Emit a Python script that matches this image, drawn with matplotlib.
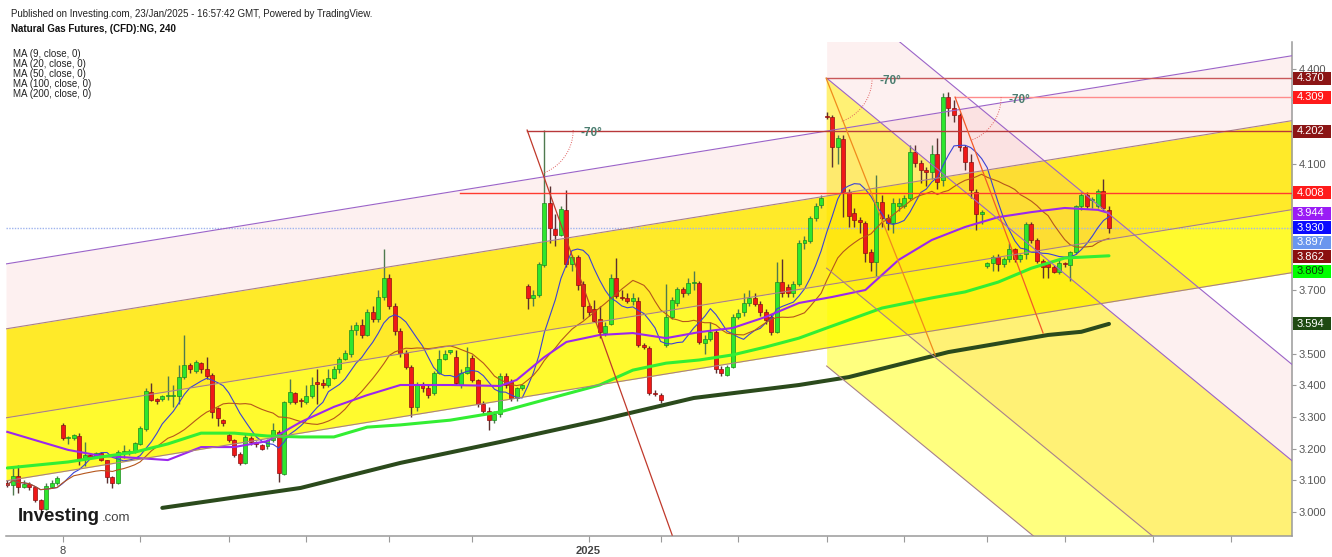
import matplotlib
matplotlib.use('Agg')
import matplotlib.pyplot as plt
import matplotlib.transforms as mtransforms
from matplotlib.patches import Rectangle
import numpy as np
import pandas as pd

plt.rcParams['font.family'] = ['Liberation Sans', 'DejaVu Sans']

# ---------------- data (240-min bars) ----------------
opens = [3.090, 3.085, 3.115, 3.080, 3.088, 3.078, 3.038, 3.010, 3.080, 3.090,
         3.274, 3.233, 3.233, 3.241, 3.166, 3.180, 3.175, 3.185, 3.163, 3.112,
         3.090, 3.188, 3.190, 3.190, 3.214, 3.262, 3.380, 3.356, 3.357, 3.367,
         3.367, 3.367, 3.427, 3.464, 3.446, 3.470, 3.452, 3.432, 3.327, 3.290,
         3.243, 3.227, 3.183, 3.156, 3.235, 3.220, 3.210, 3.208, 3.227, 3.254,
         3.120, 3.348, 3.375, 3.350, 3.348, 3.367, 3.406, 3.408, 3.400, 3.424,
         3.450, 3.483, 3.500, 3.575, 3.590, 3.560, 3.630, 3.610, 3.680, 3.740,
         3.650, 3.570, 3.502, 3.459, 3.330, 3.400, 3.390, 3.375, 3.440, 3.483,
         3.506, 3.490, 3.400, 3.440, 3.486, 3.417, 3.340, 3.320, 3.290, 3.310,
         3.430, 3.410, 3.360, 3.390, 3.713, 3.675, 3.685, 3.780, 3.975, 3.893,
         3.875, 3.953, 3.782, 3.804, 3.720, 3.650, 3.642, 3.608, 3.564, 3.594,
         3.738, 3.680, 3.675, 3.665, 3.667, 3.527, 3.519, 3.377, 3.370, 3.527,
         3.617, 3.660, 3.703, 3.690, 3.722, 3.724, 3.535, 3.545, 3.569, 3.450,
         3.433, 3.459, 3.617, 3.630, 3.660, 3.675, 3.658, 3.630, 3.617, 3.569,
         3.725, 3.710, 3.690, 3.720, 3.850, 3.855, 3.927, 3.970, 4.250, 4.248,
         4.151, 4.177, 4.011, 3.945, 3.922, 3.912, 3.820, 3.788, 3.980, 3.927,
         3.914, 3.967, 3.967, 3.990, 4.138, 4.101, 4.080, 4.075, 4.129, 4.048,
         4.311, 4.275, 4.254, 4.151, 4.104, 4.011, 3.941, 3.777, 3.785, 3.806,
         3.783, 3.798, 3.829, 3.798, 3.815, 3.908, 3.859, 3.794, 3.783, 3.773,
         3.759, 3.787, 3.780, 3.820, 3.967, 4.001, 3.985, 3.967, 4.014, 3.955]
highs = [3.100, 3.145, 3.148, 3.100, 3.095, 3.082, 3.040, 3.092, 3.100, 3.115,
         3.281, 3.240, 3.245, 3.250, 3.222, 3.185, 3.190, 3.190, 3.165, 3.115,
         3.195, 3.210, 3.200, 3.220, 3.270, 3.390, 3.406, 3.360, 3.370, 3.430,
         3.400, 3.464, 3.559, 3.470, 3.480, 3.475, 3.490, 3.440, 3.330, 3.295,
         3.250, 3.230, 3.190, 3.250, 3.240, 3.225, 3.215, 3.230, 3.280, 3.260,
         3.350, 3.420, 3.380, 3.360, 3.400, 3.427, 3.450, 3.420, 3.450, 3.460,
         3.490, 3.510, 3.590, 3.600, 3.610, 3.640, 3.650, 3.700, 3.830, 3.750,
         3.660, 3.580, 3.510, 3.465, 3.410, 3.410, 3.400, 3.445, 3.510, 3.510,
         3.510, 3.510, 3.450, 3.520, 3.495, 3.420, 3.350, 3.330, 3.320, 3.440,
         3.440, 3.420, 3.395, 3.405, 3.720, 3.700, 3.790, 4.205, 4.030, 3.940,
         3.965, 4.017, 3.810, 3.810, 3.730, 3.660, 3.670, 3.650, 3.600, 3.750,
         3.803, 3.700, 3.690, 3.690, 3.680, 3.535, 3.525, 3.385, 3.375, 3.720,
         3.680, 3.710, 3.710, 3.740, 3.760, 3.730, 3.560, 3.600, 3.575, 3.460,
         3.465, 3.625, 3.640, 3.690, 3.700, 3.690, 3.665, 3.640, 3.625, 3.790,
         3.800, 3.720, 3.730, 3.860, 3.870, 3.935, 3.975, 4.000, 4.262, 4.255,
         4.190, 4.190, 4.020, 3.960, 3.930, 3.920, 3.830, 4.064, 4.000, 3.940,
         3.990, 3.990, 4.000, 4.160, 4.160, 4.110, 4.090, 4.160, 4.180, 4.322,
         4.325, 4.300, 4.260, 4.160, 4.130, 4.020, 3.955, 3.790, 3.810, 3.815,
         3.805, 3.850, 3.835, 3.815, 3.915, 3.915, 3.865, 3.800, 3.790, 3.780,
         3.800, 3.790, 3.825, 3.970, 4.010, 4.010, 3.995, 4.020, 4.050, 3.965]
lows = [3.078, 3.054, 3.060, 3.075, 3.070, 3.032, 3.000, 3.006, 3.075, 3.085,
        3.228, 3.215, 3.228, 3.148, 3.146, 3.170, 3.170, 3.160, 3.092, 3.076,
        3.088, 3.170, 3.180, 3.185, 3.210, 3.255, 3.350, 3.340, 3.350, 3.355,
        3.330, 3.340, 3.420, 3.440, 3.440, 3.440, 3.420, 3.297, 3.270, 3.270,
        3.220, 3.175, 3.148, 3.150, 3.210, 3.205, 3.195, 3.200, 3.220, 3.096,
        3.118, 3.340, 3.340, 3.330, 3.340, 3.360, 3.340, 3.390, 3.395, 3.420,
        3.440, 3.480, 3.490, 3.560, 3.550, 3.555, 3.600, 3.600, 3.670, 3.640,
        3.560, 3.490, 3.450, 3.300, 3.320, 3.380, 3.360, 3.370, 3.435, 3.480,
        3.500, 3.400, 3.390, 3.435, 3.410, 3.330, 3.310, 3.260, 3.280, 3.300,
        3.390, 3.350, 3.350, 3.385, 3.640, 3.650, 3.680, 3.775, 3.850, 3.840,
        3.870, 3.775, 3.760, 3.700, 3.610, 3.620, 3.600, 3.550, 3.555, 3.590,
        3.675, 3.670, 3.660, 3.655, 3.520, 3.515, 3.370, 3.365, 3.345, 3.520,
        3.610, 3.650, 3.680, 3.685, 3.700, 3.530, 3.500, 3.540, 3.440, 3.430,
        3.430, 3.455, 3.610, 3.620, 3.650, 3.650, 3.620, 3.595, 3.560, 3.565,
        3.680, 3.680, 3.680, 3.715, 3.830, 3.850, 3.920, 3.960, 4.240, 4.090,
        4.100, 3.932, 3.900, 3.900, 3.880, 3.790, 3.760, 3.745, 3.900, 3.890,
        3.880, 3.950, 3.960, 3.985, 4.090, 4.040, 4.030, 4.050, 4.020, 4.030,
        4.250, 4.230, 4.140, 4.080, 3.990, 3.890, 3.910, 3.770, 3.760, 3.760,
        3.775, 3.790, 3.790, 3.790, 3.800, 3.850, 3.785, 3.740, 3.740, 3.755,
        3.750, 3.775, 3.730, 3.815, 3.955, 3.960, 3.960, 3.960, 3.950, 3.880]
closes = [3.085, 3.115, 3.080, 3.088, 3.078, 3.038, 3.010, 3.083, 3.092, 3.108,
          3.233, 3.234, 3.243, 3.166, 3.180, 3.175, 3.185, 3.163, 3.112, 3.093,
          3.188, 3.190, 3.191, 3.217, 3.264, 3.382, 3.354, 3.352, 3.367, 3.368,
          3.368, 3.427, 3.464, 3.450, 3.474, 3.450, 3.430, 3.317, 3.296, 3.280,
          3.227, 3.180, 3.156, 3.238, 3.220, 3.215, 3.200, 3.227, 3.260, 3.122,
          3.348, 3.378, 3.348, 3.349, 3.367, 3.400, 3.405, 3.400, 3.424, 3.450,
          3.483, 3.501, 3.575, 3.590, 3.560, 3.630, 3.610, 3.680, 3.740, 3.650,
          3.570, 3.502, 3.459, 3.330, 3.400, 3.390, 3.370, 3.440, 3.483, 3.500,
          3.507, 3.406, 3.440, 3.459, 3.417, 3.340, 3.320, 3.290, 3.310, 3.430,
          3.400, 3.360, 3.390, 3.400, 3.675, 3.685, 3.782, 3.975, 3.896, 3.875,
          3.957, 3.782, 3.804, 3.717, 3.650, 3.632, 3.604, 3.569, 3.588, 3.738,
          3.683, 3.675, 3.665, 3.675, 3.527, 3.520, 3.377, 3.373, 3.354, 3.617,
          3.669, 3.703, 3.690, 3.724, 3.724, 3.538, 3.545, 3.569, 3.450, 3.440,
          3.459, 3.617, 3.629, 3.660, 3.675, 3.658, 3.630, 3.606, 3.569, 3.727,
          3.690, 3.690, 3.720, 3.848, 3.860, 3.927, 3.967, 3.990, 4.248, 4.151,
          4.180, 4.011, 3.935, 3.922, 3.915, 3.817, 3.790, 3.978, 3.927, 3.912,
          3.977, 3.977, 3.992, 4.136, 4.101, 4.080, 4.075, 4.129, 4.043, 4.311,
          4.275, 4.254, 4.151, 4.104, 4.017, 3.941, 3.948, 3.787, 3.804, 3.783,
          3.798, 3.829, 3.798, 3.811, 3.908, 3.859, 3.794, 3.773, 3.773, 3.759,
          3.785, 3.783, 3.820, 3.967, 4.001, 3.967, 3.986, 4.014, 3.959, 3.897]

# longer moving averages (bar index, value)
ma50_bar = [0, 5, 11, 17, 23, 29, 35, 41, 47, 53, 59, 65, 71, 80, 89, 92, 97, 101, 107,
            113, 119, 125, 131, 137, 143, 149, 155, 161, 167, 173, 179, 185, 191, 197, 199]
ma50_val = [3.253, 3.227, 3.196, 3.177, 3.171, 3.164, 3.205, 3.205, 3.224, 3.284, 3.332,
            3.369, 3.401, 3.401, 3.398, 3.417, 3.489, 3.537, 3.559, 3.565, 3.549, 3.568,
            3.581, 3.616, 3.660, 3.679, 3.701, 3.796, 3.859, 3.900, 3.931, 3.947, 3.960,
            3.954, 3.944]
ma100_bar = [0, 11, 17, 23, 29, 35, 41, 47, 53, 59, 65, 71, 80, 89, 97, 107, 113, 119,
             125, 131, 137, 143, 148, 158, 167, 173, 179, 185, 191, 199]
ma100_val = [3.139, 3.158, 3.174, 3.189, 3.215, 3.249, 3.249, 3.240, 3.237, 3.237, 3.268,
             3.275, 3.290, 3.316, 3.354, 3.401, 3.448, 3.470, 3.480, 3.496, 3.521, 3.549,
             3.581, 3.644, 3.676, 3.695, 3.726, 3.770, 3.802, 3.809]
ma200_bar = [28, 53, 71, 89, 107, 124, 143, 152, 170, 188, 194, 199]
ma200_val = [3.013, 3.076, 3.155, 3.221, 3.290, 3.360, 3.401, 3.426, 3.505, 3.559, 3.569, 3.594]

# drawings: rising channel (value at bar 0 and bar 200)
channel_v0 = [3.784, 3.579, 3.298, 3.099]
channel_v200 = [4.350, 4.145, 3.864, 3.665]
# falling fan / channel anchored at bar 148 (value at bar 148 and at right edge 232)
fall_start_bar = 148
fall_v148 = [4.674, 4.370, 3.770, 3.461]
fall_v232 = [3.466, 3.162, 2.562, 2.253]
# horizontal levels: (value, first bar)
level_vals = [4.370, 4.309, 4.202, 4.008]
level_start = [148, 171.2, 93.9, 81.8]
level_colors = ['#c9585a', '#ff8c8c', '#b8383a', '#ff3b30']
# -70 degree angle lines: apex (bar, value) -> end (bar, value)
angle_apex = [(93.9, 4.206), (147.9, 4.370), (171.2, 4.310)]
angle_end = [(120.1, 2.927), (167.6, 3.496), (187.1, 3.565)]
angle_colors = ['#c0392b', '#f08a1c', '#f25a2a']

last_price = 3.897
axis_labels = [4.370, 4.309, 4.202, 4.008, 3.944, 3.930, 3.897, 3.862, 3.809, 3.594]
axis_label_bg = ['#8b1515', '#ff1a1a', '#8b1515', '#ff1a1a', '#9a1cf5', '#0a0aff',
                 '#6a96ee', '#8b1010', '#00ff00', '#1f4a12']
axis_label_fg = ['white'] * 8 + ['#0a3a0a', 'white']

date_tick_bars = [10, 24, 40, 54, 69, 84, 105, 118, 132, 148, 162, 177, 191, 207, 221]
date_tick_text = ['8', '', '', '', '', '', '2025', '', '', '', '', '', '', '', '']

# ---------------- figure ----------------
W, H = 1332, 557
fig = plt.figure(figsize=(W / 100, H / 100), dpi=100)
ax = fig.add_axes([6 / W, 21 / H, 1286 / W, 494 / H])
XMIN, XMAX = -0.235, 232.06
ax.set_xlim(XMIN, XMAX)
ax.set_ylim(2.9242, 4.4841)
ax.set_facecolor('white')

# rising channel fills
xs = np.linspace(XMIN, XMAX, 50)
ch = [v0 + (v2 - v0) * xs / 200.0 for v0, v2 in zip(channel_v0, channel_v200)]
ax.fill_between(xs, ch[0], ch[1], color=(0.94, 0.5, 0.5, 0.118), lw=0, zorder=0.5)
ax.fill_between(xs, ch[1], ch[2], color=(1.0, 0.90, 0.0, 0.84), lw=0, zorder=0.5)
ax.fill_between(xs, ch[2], ch[3], color=(1.0, 0.98, 0.0, 0.82), lw=0, zorder=0.5)
for k, line in enumerate(ch):
    ax.plot(xs, line, color='#9b63c8' if k == 0 else '#a8808a', lw=0.8, zorder=5)

# falling structure fills
xr = np.linspace(fall_start_bar, XMAX, 40)
fr = [v0 + (v1 - v0) * (xr - fall_start_bar) / (XMAX - fall_start_bar)
      for v0, v1 in zip(fall_v148, fall_v232)]
ax.fill_between(xr, fr[0], fr[1], color=(0.94, 0.5, 0.5, 0.118), lw=0, zorder=0.6)
ax.fill_between(xr, fr[1], fr[2], color=(1.0, 0.90, 0.0, 0.54), lw=0, zorder=0.6)
ax.fill_between(xr, fr[2], fr[3], color=(1.0, 1.0, 0.0, 0.50), lw=0, zorder=0.6)
for k, line in enumerate(fr):
    ax.plot(xr, line, color='#9b63c8' if k < 2 else '#a8808a', lw=0.8, zorder=5)

# last price dotted line
ax.axhline(last_price, color='#9fb4ee', lw=1.0, ls=(0, (1, 1)), zorder=2)

# candles
o = np.array(opens); h = np.array(highs); l = np.array(lows); c = np.array(closes)
idx = np.arange(len(c))
up = c >= o
ax.vlines(idx[up], l[up], h[up], colors='#4f7a4f', lw=1.0, zorder=3)
ax.vlines(idx[~up], l[~up], h[~up], colors='#5a3030', lw=1.0, zorder=3)
bb = np.minimum(o, c)
bh = np.maximum(np.abs(c - o), 0.004)
ax.bar(idx[up], bh[up], bottom=bb[up], width=0.72, color='#2ee62e',
       edgecolor='#1c8c1c', lw=0.5, zorder=3.5)
ax.bar(idx[~up], bh[~up], bottom=bb[~up], width=0.72, color='#f01818',
       edgecolor='#8c1010', lw=0.5, zorder=3.5)

# moving averages
cs = pd.Series(closes)
ax.plot(idx, cs.rolling(9, min_periods=1).mean(), color='#3b42d6', lw=0.8, zorder=4)
ax.plot(idx, cs.rolling(20, min_periods=1).mean(), color='#b5561c', lw=0.8, zorder=4)
ax.plot(ma50_bar, ma50_val, color='#9b27ee', lw=1.5, zorder=4)
ax.plot(ma100_bar, ma100_val, color='#33ee33', lw=2.2, zorder=4, solid_capstyle='round')
ax.plot(ma200_bar, ma200_val, color='#2b4a1c', lw=2.9, zorder=4, solid_capstyle='round')

# horizontal levels
for v, s, col in zip(level_vals, level_start, level_colors):
    ax.plot([s, XMAX], [v, v], color=col, lw=1.0, zorder=5)

# angle lines, arcs and labels
fig.canvas.draw()
inv = ax.transData.inverted()
for (ax0, av0), (ax1, av1), col in zip(angle_apex, angle_end, angle_colors):
    ax.plot([ax0, ax1], [av0, av1], color=col, lw=0.9, zorder=5)
    cx, cy = ax.transData.transform((ax0, av0))
    th = np.radians(np.linspace(0, -70, 40))
    pts = inv.transform(np.column_stack([cx + 46 * np.cos(th), cy + 46 * np.sin(th)]))
    ax.plot(pts[:, 0], pts[:, 1], color='#e06060', lw=0.7, ls=(0, (1, 1.5)), zorder=5)
    ax.annotate('-70\u00b0', (ax0, av0), xytext=(46, -2), textcoords='offset points',
                ha='center', va='center', fontsize=8.5, fontweight='bold',
                color='#4b7d70', zorder=6)

# right-side value labels (stacked to avoid overlap)
hv = 14.6 / 316.7
label_pos = []
prev = None
for v in axis_labels:
    pos = v if prev is None or v <= prev - hv else prev - hv
    prev = pos
    label_pos.append(pos)

# axes styling
for sp in ['top', 'left']:
    ax.spines[sp].set_visible(False)
for sp in ['right', 'bottom']:
    ax.spines[sp].set_color('#9a9a9a')
    ax.spines[sp].set_linewidth(1.1)
ax.yaxis.tick_right()
yt = np.round(np.arange(3.0, 4.41, 0.1), 1)
ax.set_yticks(yt)
ax.set_yticklabels(['' if any(abs(v - p) < hv * 0.6 for p in label_pos) else '%.3f' % v
                    for v in yt])
ax.tick_params(axis='y', direction='out', length=3, width=0.8, color='#9a9a9a',
               labelsize=8, labelcolor='#555555', pad=2)
ax.set_xticks(date_tick_bars)
ax.set_xticklabels(date_tick_text)
ax.tick_params(axis='x', direction='out', length=4, width=0.8, color='#9a9a9a',
               labelsize=8, labelcolor='#444444', pad=3)
for t in ax.get_xticklabels():
    if t.get_text() == '2025':
        t.set_fontweight('bold')

trans = mtransforms.blended_transform_factory(ax.transAxes, ax.transData)
for v, pos, bg, fg in zip(axis_labels, label_pos, axis_label_bg, axis_label_fg):
    ax.add_patch(Rectangle((1.0008, pos - 13 / 316.7 / 2), 38 / 1286, 13 / 316.7,
                           transform=trans, facecolor=bg, edgecolor='none',
                           clip_on=False, zorder=20))
    ax.text(1.0035, pos, '%.3f' % v, transform=trans, ha='left', va='center',
            fontsize=8, color=fg, zorder=21, clip_on=False)

# header texts
fig.text(11 / W, 1 - 16.7 / H,
         'Published on Investing.com, 23/Jan/2025 - 16:57:42 GMT, Powered by TradingView.',
         fontsize=7, color='#222222', va='baseline')
fig.text(11 / W, 1 - 32.5 / H, 'Natural Gas Futures, (CFD):NG, 240', fontsize=7,
         fontweight='bold', color='#111111', va='baseline')
for k, s in enumerate(['MA (9, close, 0)', 'MA (20, close, 0)', 'MA (50, close, 0)',
                       'MA (100, close, 0)', 'MA (200, close, 0)']):
    fig.text(13 / W, 1 - (57.3 + 10 * k) / H, s, fontsize=7, color='#222222', va='baseline')

# logo
fig.text(18 / W, 1 - 521 / H, 'Investing', fontsize=13.5, fontweight='bold',
         color='#1a1a1a', va='baseline')
fig.text(102 / W, 1 - 521 / H, '.com', fontsize=9.5, color='#444444', va='baseline')

fig.savefig('out.png', dpi=100)
